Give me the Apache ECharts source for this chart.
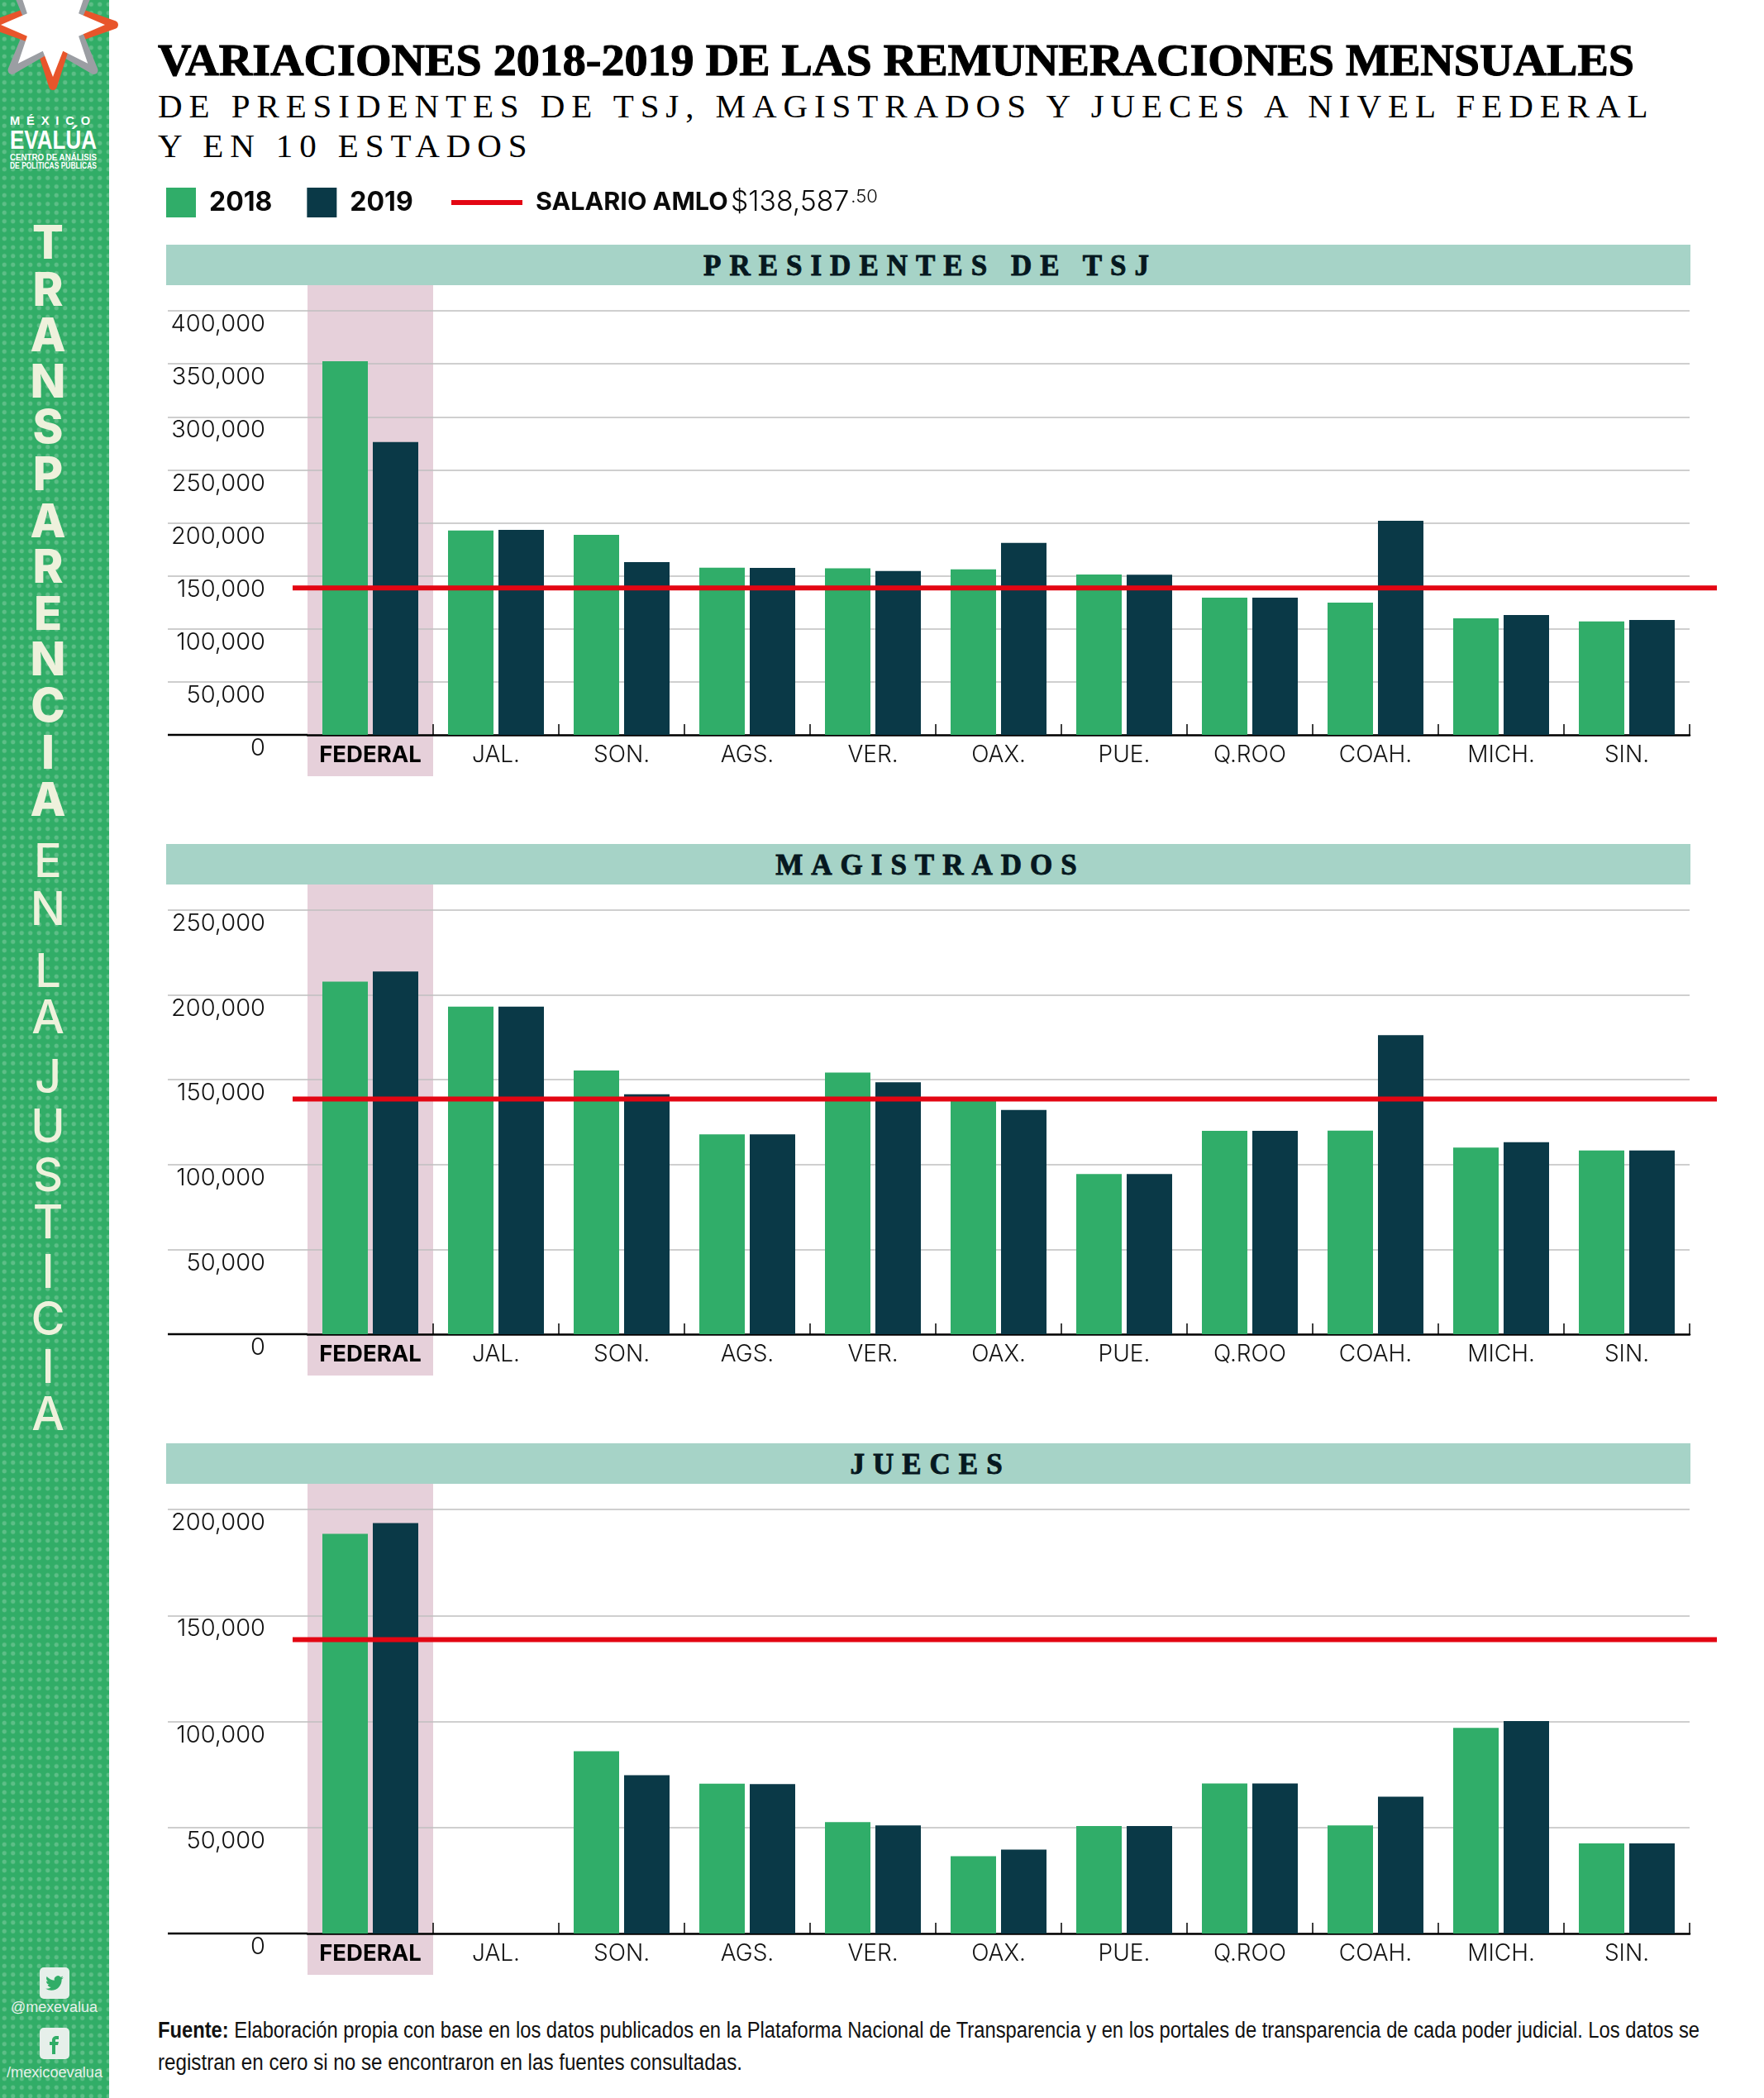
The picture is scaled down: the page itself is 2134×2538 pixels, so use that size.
<!DOCTYPE html>
<html lang="es">
<head>
<meta charset="utf-8">
<title>Variaciones 2018-2019</title>
<script src="https://cdn.jsdelivr.net/npm/echarts@6/dist/echarts.min.js"></script>
<style>
html,body{margin:0;padding:0;background:#fff;}
#page{position:relative;width:2134px;height:2538px;overflow:hidden;font-family:Inter,sans-serif;color:#000;}
#main{position:absolute;left:0;top:0;width:2134px;height:2538px;z-index:2;}
.abs{position:absolute;white-space:nowrap;transform-origin:left center;}
#side{position:absolute;left:0;top:0;width:132px;height:2538px;background-color:#31ad67;
 background-image:radial-gradient(circle,#5dbe87 0,#5dbe87 2.3px,rgba(93,190,135,0) 3.1px);background-size:10.5px 10.5px;}
.band{position:absolute;left:201px;width:1844px;height:49px;background:#a6d3c7;}
.band span{position:absolute;left:5px;right:0;top:0;text-align:center;font:bold 35px/51px "Liberation Serif",serif;color:#06181f;letter-spacing:10px;-webkit-text-stroke:.9px #06181f;}
.let{position:absolute;left:58px;width:0;display:flex;justify-content:center;color:#eef1dc;font-size:56px;line-height:56px;}
.soc{position:absolute;left:48px;width:36px;height:38px;border-radius:5px;background:#e6efea;}
.lg{font-family:'Liberation Sans',sans-serif;color:#fff;}
.src{font:27px/39px 'Liberation Sans',sans-serif;color:#111;}
</style>
</head>
<body>
<div id="page">
  <div id="side"></div>
  <svg id="star" class="abs" style="left:0;top:0;z-index:3" width="160" height="125" viewBox="0 0 160 125"></svg>
  <div class="abs lg" data-w="105" style="left:12px;top:137px;font-weight:700;font-size:15px;line-height:17px;letter-spacing:8px;">MÉXICO</div>
  <div class="abs lg" data-w="105" style="left:12px;top:154px;font-weight:700;font-size:31px;line-height:32px;">EVALÚA</div>
  <div class="abs lg" data-w="105" style="left:12px;top:184px;font-size:11px;line-height:12px;font-weight:700;">CENTRO DE ANÁLISIS</div>
  <div class="abs lg" data-w="105" style="left:12px;top:194px;font-size:11px;line-height:12px;font-weight:700;">DE POLÍTICAS PÚBLICAS</div>
  <div id="letters"></div>

  <div class="soc" style="top:2380px"><svg width="36" height="38" viewBox="-8 -9 40 42"><path fill="#31ad67" d="M23.953 4.57a10 10 0 01-2.825.775 4.958 4.958 0 002.163-2.723c-.951.555-2.005.959-3.127 1.184a4.92 4.92 0 00-8.384 4.482C7.69 8.095 4.067 6.13 1.64 3.162a4.822 4.822 0 00-.666 2.475c0 1.71.87 3.213 2.188 4.096a4.904 4.904 0 01-2.228-.616v.06a4.923 4.923 0 003.946 4.827 4.996 4.996 0 01-2.212.085 4.936 4.936 0 004.604 3.417 9.867 9.867 0 01-6.102 2.105c-.39 0-.779-.023-1.17-.067a13.995 13.995 0 007.557 2.209c9.053 0 13.998-7.496 13.998-13.985 0-.21 0-.42-.015-.63A9.935 9.935 0 0024 4.59z"/></svg></div>
  <div class="abs" data-w="105" style="left:13px;top:2417px;color:#e6efea;font:18px/22px 'Liberation Sans';">@mexevalua</div>
  <div class="soc" style="top:2453px"><svg width="36" height="38" viewBox="-6 -6 36 38"><path fill="#31ad67" d="M14 8h3V4h-3c-2.8 0-5 2.2-5 5v2H6v4h3v11h4V15h3l1-4h-4V9c0-.6.4-1 1-1z"/></svg></div>
  <div class="abs" data-w="116" style="left:8px;top:2496px;color:#e6efea;font:18px/22px 'Liberation Sans';">/mexicoevalua</div>

  <div class="abs" data-w="1786" style="left:191px;top:42px;font:bold 55px/62px 'Liberation Serif',serif;-webkit-text-stroke:1.1px #000;">VARIACIONES 2018-2019 DE LAS REMUNERACIONES MENSUALES</div>
  <div class="abs" style="left:191px;top:104px;font:41px/48px 'Liberation Serif',serif;letter-spacing:7.92px;">DE PRESIDENTES DE TSJ, MAGISTRADOS Y JUECES A NIVEL FEDERAL</div>
  <div class="abs" style="left:191px;top:152px;font:41px/48px 'Liberation Serif',serif;letter-spacing:7.92px;">Y EN 10 ESTADOS</div>

  <div class="band" style="top:296px"><span>PRESIDENTES DE TSJ</span></div>
  <div class="band" style="top:1021px"><span>MAGISTRADOS</span></div>
  <div class="band" style="top:1746px"><span>JUECES</span></div>

  <div class="abs src" data-w="1865" style="left:191px;top:2437px;"><b>Fuente:</b> Elaboración propia con base en los datos publicados en la Plataforma Nacional de Transparencia y en los portales de transparencia de cada poder judicial. Los datos se</div>
  <div class="abs src" data-w="707" style="left:191px;top:2476px;">registran en cero si no se encontraron en las fuentes consultadas.</div>
  <div id="main"></div>
</div>
<script>
// ---- Data ----
const categories = ['FEDERAL','JAL.','SON.','AGS.','VER.','OAX.','PUE.','Q.ROO','COAH.','MICH.','SIN.'];
const presidentes2018 = [352400,192800,188700,157700,157200,156200,151300,129400,124800,110000,107000];
const presidentes2019 = [276300,193400,163000,157500,154600,181100,151000,129400,202000,113000,108400];
const magistrados2018 = [207900,193100,155400,117800,154300,139000,94400,119900,120000,110000,108300];
const magistrados2019 = [213800,193100,141500,117800,148500,132200,94400,119900,176300,113200,108300];
const jueces2018 = [188500,0,86000,70700,52500,36500,50700,70800,51000,97000,42500];
const jueces2019 = [193600,0,74700,70500,51000,39600,50700,70800,64500,100200,42500];
const salarioAmlo = 138587.5;
const axisMax = [400000,250000,200000];
const axisStep = 50000;
const seriesNames = ['2018','2019','SALARIO AMLO'];

// ---- Decoration built from HTML ----
document.querySelectorAll('[data-w]').forEach(el=>{
  el.style.transform='scaleX('+(parseFloat(el.dataset.w)/el.getBoundingClientRect().width)+')';
});
const letterTop = [181,216,250,285,319,354,389,423,458,492,527,562,597,643,679,725,760,804,841,878,913,950,985,1021,1056];
const letterText = 'TRANSPARENCIAENLAJUSTICIA';
const lettersEl = document.getElementById('letters');
letterTop.forEach((c,i)=>{
  const d=document.createElement('div');
  d.className='let';
  d.style.top=(c*1.619-28)+'px';
  d.style.fontWeight=i<13?'800':'500';
  d.textContent=letterText[i];
  lettersEl.appendChild(d);
});
(function(){
  const svg=document.getElementById('star');
  const cx=64,cy=30;
  const angs=[0,48,90,132,180,228,270,312];
  const col=['#e8552b','#9b9ea3','#e8552b','#9b9ea3','#e8552b','#9b9ea3','#e8552b','#9b9ea3'];
  const pt=(a,r)=>[cx+r*Math.cos(a*Math.PI/180),cy+r*Math.sin(a*Math.PI/180)].map(v=>v.toFixed(1)).join(',');
  let h='',poly=[];
  angs.forEach((a,i)=>{
    const next=angs[(i+1)%8]+(i==7?360:0), prev=angs[(i+7)%8]-(i==0?360:0);
    const m1=(a+next)/2,m0=(a+prev)/2;
    h+=`<polyline points="${pt(m0,36)} ${pt(a,74)} ${pt(m1,36)}" fill="${col[i]}" stroke="${col[i]}" stroke-width="10" stroke-linejoin="round" stroke-linecap="round"/>`;
    poly.push(pt(a,63),pt(m1,34));
  });
  h+=`<polygon points="${poly.join(' ')}" fill="#fff"/>`;
  svg.innerHTML=h;
})();

// ---- Chart ----
const GREEN='#30ad69', DARK='#0a3947', RED='#e30613', PINK='#e6d0da', GRID='#bfbfbf';
const FONT='Inter, sans-serif';
const gridTop=[376,1101,1826], plotH=513, plotL=372, plotW=1672;
const panels=[[presidentes2018,presidentes2019],[magistrados2018,magistrados2019],[jueces2018,jueces2019]];
const grids=[],xAxes=[],yAxes=[],series=[];

function hlineItem(value,extL,extR,color,width){
  return function(params,api){
    const a=api.coord([0,value]), b=api.coord([categories.length-1,value]);
    const band=api.size([1,0])[0];
    return {type:'line',shape:{x1:a[0]-band/2-extL,y1:a[1],x2:b[0]+band/2+extR,y2:a[1]},style:{stroke:color,lineWidth:width,fill:null},silent:true};
  };
}
panels.forEach((vals,i)=>{
  grids.push({left:plotL,top:gridTop[i],width:plotW,height:plotH,containLabel:false});
  xAxes.push({type:'category',gridIndex:i,data:categories,boundaryGap:true,
    axisLine:{show:true,lineStyle:{color:'#000',width:2.5}},
    axisTick:{show:true,inside:true,length:13,alignWithLabel:false,interval:idx=>idx!==0,lineStyle:{color:'#000',width:1.5}},
    axisLabel:{margin:11,interval:0,color:'#111',fontFamily:FONT,fontSize:28,fontWeight:300,
      formatter:v=>v==='FEDERAL'?'{b|'+v+'}':v,
      rich:{b:{fontFamily:FONT,fontSize:27.5,fontWeight:'bold',color:'#000'}}},
    splitLine:{show:false}});
  yAxes.push({type:'value',gridIndex:i,min:0,max:axisMax[i],interval:axisStep,
    axisLine:{show:false},
    axisTick:{show:true,length:plotL-203,lineStyle:{color:GRID,width:1.5}},
    axisLabel:{margin:51,verticalAlign:'top',padding:[2,0,0,0],color:'#111',fontFamily:FONT,fontSize:29,fontWeight:300,
      formatter:v=>v.toLocaleString('en-US')},
    splitLine:{show:true,lineStyle:{color:GRID,width:1.5}}});
  series.push({type:'custom',name:'federal'+i,xAxisIndex:i,yAxisIndex:i,z:-1,silent:true,clip:false,
    data:[[0,0]],
    renderItem:(p,api)=>{
      const c0=api.coord([0,0]), c1=api.coord([0,axisMax[i]]), band=api.size([1,0])[0];
      return {type:'rect',shape:{x:c0[0]-band/2,y:c1[1]-31,width:band,height:c0[1]-c1[1]+31+50},style:{fill:PINK}};
    }});
  series.push({type:'custom',name:'base'+i,xAxisIndex:i,yAxisIndex:i,z:3,silent:true,clip:false,data:[[0,0]],
    renderItem:(p,api)=>{
      const c0=api.coord([0,0]), band=api.size([1,0])[0];
      return {type:'line',shape:{x1:c0[0]-band/2-(plotL-203),y1:c0[1],x2:c0[0]-band/2,y2:c0[1]},style:{stroke:'#000',lineWidth:2.5}};
    }});
  series.push({type:'bar',name:seriesNames[0],xAxisIndex:i,yAxisIndex:i,data:vals[0],barWidth:55,barGap:'10.9%',itemStyle:{color:GREEN},z:4});
  series.push({type:'bar',name:seriesNames[1],xAxisIndex:i,yAxisIndex:i,data:vals[1],barWidth:55,barGap:'10.9%',itemStyle:{color:DARK},z:4});
  series.push({type:'custom',name:seriesNames[2],xAxisIndex:i,yAxisIndex:i,z:6,silent:true,clip:false,
    itemStyle:{color:RED},data:[[0,salarioAmlo]],
    renderItem:hlineItem(salarioAmlo,18,33,RED,6)});
});

const chart=echarts.init(document.getElementById('main'),null,{renderer:'canvas',width:2134,height:2538});
chart.setOption({
  animation:false,
  backgroundColor:'transparent',
  tooltip:{show:false},
  grid:grids,xAxis:xAxes,yAxis:yAxes,series:series,
  legend:[
    {left:201,top:227,padding:0,selectedMode:false,icon:'rect',itemWidth:36,itemHeight:36,itemGap:42,
     data:[seriesNames[0],seriesNames[1]],
     textStyle:{fontFamily:FONT,fontSize:32,fontWeight:'bold',color:'#0a0a0a',padding:[0,0,0,11]}},
    {left:546,top:227,padding:0,selectedMode:false,icon:'rect',itemWidth:86,itemHeight:6,
     data:[seriesNames[2]],
     formatter:n=>'{a|'+n+'} {p|$138,587}{s|.50}',
     textStyle:{padding:[0,0,0,11],rich:{
       a:{fontFamily:FONT,fontSize:30.5,fontWeight:'bold',color:'#0a0a0a'},
       p:{fontFamily:FONT,fontSize:33.7,fontWeight:300,color:'#0a0a0a'},
       s:{fontFamily:FONT,fontSize:22,fontWeight:300,color:'#0a0a0a',padding:[0,0,14,2]}}}}
  ]
});
</script>
</body>
</html>
